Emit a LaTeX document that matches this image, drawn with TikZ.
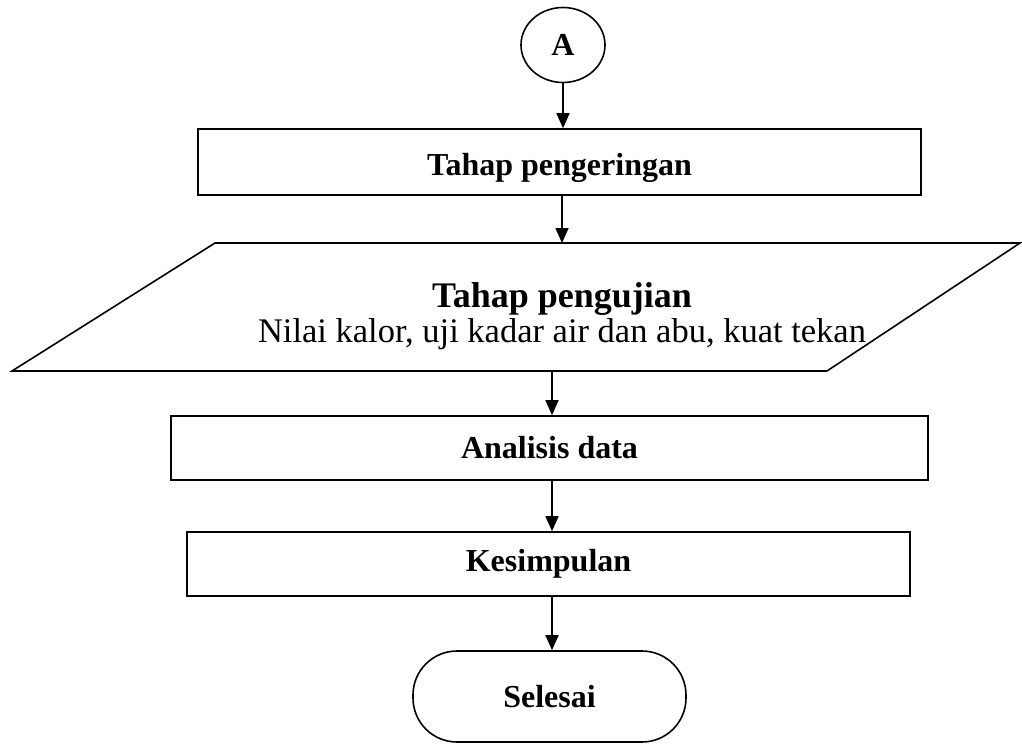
\documentclass[tikz,border=0pt]{standalone}
\usepackage{fontspec}
\setmainfont{Liberation Serif}
\usetikzlibrary{arrows.meta}
\usetikzlibrary{positioning}
\usetikzlibrary{shapes.geometric}

\begin{document}
\begin{tikzpicture}[x=1pt,y=-1pt,->,>={Triangle[length=15pt,width=13pt]},line width=1.6pt,
			font=\fontsize{32}{36}\selectfont\bfseries]
			\tikzstyle{every node}=[inner sep=0pt]
			\tikzstyle{kotak}=[draw,rectangle,minimum height=64pt]
			\tikzstyle{ujung}=[draw,rectangle,rounded corners=44pt,minimum width=273pt,minimum height=91pt]
			
			\useasboundingbox (0,0) rectangle (1022,744);
			
			\node[draw,ellipse,minimum width=84pt,minimum height=75pt] (A) at (563,45) {A};
			\node[kotak,minimum width=723pt,minimum height=66pt] (kering) at (559.5,162) {\raisebox{-13pt}[0pt][0pt]{Tahap pengeringan}};
			
			% jajaran genjang tahap pengujian
			\draw[-] (215,243) -- (1020,243) -- (827,371) -- (12,371) -- cycle;
			\node[align=center,font=\fontsize{36}{35}\selectfont\bfseries] (uji) at (562,316) {Tahap pengujian\\{\fontsize{34.5}{35}\selectfont\mdseries Nilai kalor, uji kadar air dan abu, kuat tekan}};
			\coordinate (ujiatas) at (562,243);
			\coordinate (ujibawah) at (552,371);
			
			\node[kotak,minimum width=757pt] (analisis) at (549.5,448) {Analisis data};
			\node[kotak,minimum width=723pt] (simpul) at (548.5,564) {Kesimpulan};
			\node[ujung] (selesai) at (549.5,696.5) {Selesai};
			
			\path (A.south) edge (A.south |- kering.north)
			(kering.south -| ujiatas) edge (ujiatas)
			(ujibawah) edge (ujibawah |- analisis.north)
			(analisis.south -| ujibawah) edge (ujibawah |- simpul.north)
			(simpul.south -| ujibawah) edge (ujibawah |- selesai.north)
			;
\end{tikzpicture}
\end{document}
